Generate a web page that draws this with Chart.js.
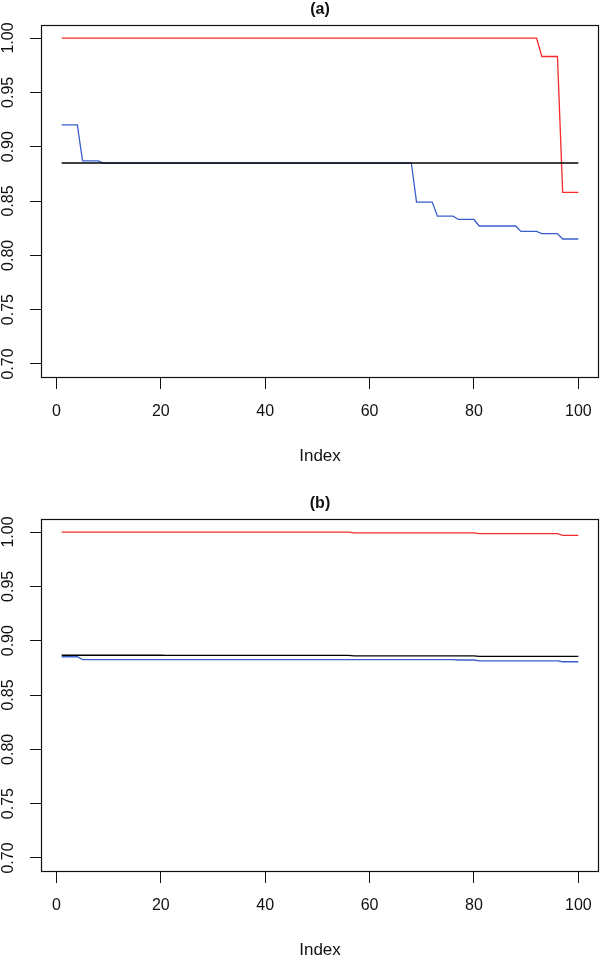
<!DOCTYPE html>
<html><head><meta charset="utf-8">
<script src="https://cdn.jsdelivr.net/npm/chart.js@4"></script>
<style>
html,body{margin:0;padding:0;background:#fff;overflow:hidden;width:600px;height:957px}
canvas{position:absolute;left:0}
</style></head><body>
<canvas id="ca" width="600" height="494" style="top:0"></canvas>
<canvas id="cb" width="600" height="494" style="top:494px"></canvas>
<script>
// ---- data ----
const index = [1,2,3,4,5,6,7,8,9,10,11,12,13,14,15,16,17,18,19,20,
  21,22,23,24,25,26,27,28,29,30,31,32,33,34,35,36,37,38,39,40,
  41,42,43,44,45,46,47,48,49,50,51,52,53,54,55,56,57,58,59,60,
  61,62,63,64,65,66,67,68,69,70,71,72,73,74,75,76,77,78,79,80,
  81,82,83,84,85,86,87,88,89,90,91,92,93,94,95,96,97,98,99,100];
const xTicks = [0,20,40,60,80,100];
const yTicks = [0.70,0.75,0.80,0.85,0.90,0.95,1.00];
const panelTitles = ['(a)','(b)'];
const xAxisTitle = 'Index';

const redA = [1,1,1,1,1,1,1,1,1,1, 1,1,1,1,1,1,1,1,1,1, 1,1,1,1,1,1,1,1,1,1,
  1,1,1,1,1,1,1,1,1,1, 1,1,1,1,1,1,1,1,1,1, 1,1,1,1,1,1,1,1,1,1,
  1,1,1,1,1,1,1,1,1,1, 1,1,1,1,1,1,1,1,1,1, 1,1,1,1,1,1,1,1,1,1,
  1,1,0.983,0.983,0.983,0.983,0.858,0.858,0.858,0.858];
const blueA = [0.920,0.920,0.920,0.920,0.887,0.887,0.887,0.887,0.8848,0.8848,
  0.8848,0.8848,0.8848,0.8848,0.8848,0.8848,0.8848,0.8848,0.8848,0.8848,
  0.8848,0.8848,0.8848,0.8848,0.8848,0.8848,0.8848,0.8848,0.8848,0.8848,
  0.8848,0.8848,0.8848,0.8848,0.8848,0.8848,0.8848,0.8848,0.8848,0.8848,
  0.8848,0.8848,0.8848,0.8848,0.8848,0.8848,0.8848,0.8848,0.8848,0.8848,
  0.8848,0.8848,0.8848,0.8848,0.8848,0.8848,0.8848,0.8848,0.8848,0.8848,
  0.8848,0.8848,0.8848,0.8848,0.8848,0.8848,0.8848,0.8848,0.849,0.849,
  0.849,0.849,0.836,0.836,0.836,0.836,0.833,0.833,0.833,0.833,
  0.827,0.827,0.827,0.827,0.827,0.827,0.827,0.827,0.822,0.822,
  0.822,0.822,0.820,0.820,0.820,0.820,0.815,0.815,0.815,0.815];
const blackA = [0.885,0.885,0.885,0.885,0.885,0.885,0.885,0.885,0.885,0.885,
  0.885,0.885,0.885,0.885,0.885,0.885,0.885,0.885,0.885,0.885,
  0.885,0.885,0.885,0.885,0.885,0.885,0.885,0.885,0.885,0.885,
  0.885,0.885,0.885,0.885,0.885,0.885,0.885,0.885,0.885,0.885,
  0.885,0.885,0.885,0.885,0.885,0.885,0.885,0.885,0.885,0.885,
  0.885,0.885,0.885,0.885,0.885,0.885,0.885,0.885,0.885,0.885,
  0.885,0.885,0.885,0.885,0.885,0.885,0.885,0.885,0.885,0.885,
  0.885,0.885,0.885,0.885,0.885,0.885,0.885,0.885,0.885,0.885,
  0.885,0.885,0.885,0.885,0.885,0.885,0.885,0.885,0.885,0.885,
  0.885,0.885,0.885,0.885,0.885,0.885,0.885,0.885,0.885,0.885];

const redB = [1,1,1,1,1,1,1,1,1,1, 1,1,1,1,1,1,1,1,1,1, 1,1,1,1,1,1,1,1,1,1,
  1,1,1,1,1,1,1,1,1,1, 1,1,1,1,1,1,1,1,1,1,
  1,1,1,1,1,1,0.9993,0.9993,0.9993,0.9993,
  0.9993,0.9993,0.9993,0.9993,0.9993,0.9993,0.9993,0.9993,0.9993,0.9993,
  0.9993,0.9993,0.9993,0.9993,0.9993,0.9993,0.9993,0.9993,0.9993,0.9993,
  0.9985,0.9985,0.9985,0.9985,0.9985,0.9985,0.9985,0.9985,0.9985,0.9985,
  0.9985,0.9985,0.9985,0.9985,0.9985,0.9985,0.997,0.997,0.997,0.997];
const blueB = [0.8852,0.8852,0.8852,0.8852,0.8826,0.8826,0.8826,0.8826,0.8826,0.8826,
  0.8826,0.8826,0.8826,0.8826,0.8826,0.8826,0.8826,0.8826,0.8826,0.8826,
  0.8826,0.8826,0.8826,0.8826,0.8826,0.8826,0.8826,0.8826,0.8826,0.8826,
  0.8826,0.8826,0.8826,0.8826,0.8826,0.8826,0.8826,0.8826,0.8826,0.8826,
  0.8826,0.8826,0.8826,0.8826,0.8826,0.8826,0.8826,0.8826,0.8826,0.8826,
  0.8826,0.8826,0.8826,0.8826,0.8826,0.8826,0.8826,0.8826,0.8826,0.8826,
  0.8826,0.8826,0.8826,0.8826,0.8826,0.8826,0.8826,0.8826,0.8826,0.8826,
  0.8826,0.8826,0.8826,0.8826,0.8826,0.8826,0.8822,0.8822,0.8822,0.8822,
  0.8815,0.8815,0.8815,0.8815,0.8815,0.8815,0.8815,0.8815,0.8815,0.8815,
  0.8815,0.8815,0.8815,0.8815,0.8815,0.8815,0.8806,0.8806,0.8806,0.8806];
const blackB = [0.8866,0.8866,0.8866,0.8866,0.8866,0.8866,0.8866,0.8866,0.8866,0.8866,
  0.8866,0.8866,0.8866,0.8866,0.8866,0.8866,0.8866,0.8866,0.8866,0.8866,
  0.8864,0.8864,0.8864,0.8864,0.8864,0.8864,0.8864,0.8864,0.8864,0.8864,
  0.8864,0.8864,0.8864,0.8864,0.8864,0.8864,0.8864,0.8864,0.8864,0.8864,
  0.8864,0.8864,0.8864,0.8864,0.8864,0.8864,0.8864,0.8864,0.8864,0.8864,
  0.8864,0.8864,0.8864,0.8864,0.8864,0.8864,0.8861,0.8861,0.8861,0.8861,
  0.8861,0.8861,0.8861,0.8861,0.8861,0.8861,0.8861,0.8861,0.8861,0.8861,
  0.8861,0.8861,0.8861,0.8861,0.8861,0.8861,0.8861,0.8861,0.8861,0.8861,
  0.8856,0.8856,0.8856,0.8856,0.8856,0.8856,0.8856,0.8856,0.8856,0.8856,
  0.8856,0.8856,0.8856,0.8856,0.8856,0.8856,0.8856,0.8856,0.8856,0.8856];

// ---- styling / layout ----
const FAMILY = "'Liberation Sans', Arial, Helvetica, sans-serif";
const INK = '#111';
const X_MIN = -2.96, X_MAX = 103.96;
const Y_MIN = 0.688, Y_MAX = 1.012;

const boxPlugin = {
  id: 'rbox',
  afterDraw(chart, args, opts) {
    const {ctx, chartArea: a} = chart;
    ctx.save();
    ctx.strokeStyle = INK;
    ctx.lineWidth = 1.2;
    ctx.strokeRect(Math.round(a.left) + 0.5, Math.round(a.top) + 0.5,
      Math.round(a.right - a.left) - 1, Math.round(a.bottom - a.top));
    ctx.fillStyle = INK;
    ctx.font = 'bold 16px ' + FAMILY;
    ctx.textAlign = 'center';
    ctx.textBaseline = 'middle';
    ctx.fillText(opts.text, (a.left + a.right) / 2, 10);
    ctx.restore();
  }
};

function makeChart(id, title, red, blue, black) {
  const line = (data, color) => ({data, borderColor: color, borderWidth: 1.3,
    pointRadius: 0, tension: 0, fill: false});
  return new Chart(document.getElementById(id), {
    type: 'line',
    data: {labels: index, datasets: [line(black, '#000'), line(blue, '#3a5fcd'), line(red, '#f52a2a')]},
    options: {
      responsive: false, animation: false, devicePixelRatio: 1,
      layout: {padding: {top: 25, left: 0, right: 1, bottom: 0}},
      plugins: {legend: {display: false}, tooltip: {enabled: false}, title: {display: false},
        rbox: {text: title}},
      scales: {
        x: {
          type: 'linear', min: X_MIN, max: X_MAX,
          afterBuildTicks: s => { s.ticks = xTicks.map(v => ({value: v})); },
          afterFit: s => { s.height = 117; s.paddingLeft = 0; s.paddingRight = 0; },
          grid: {drawOnChartArea: false, drawTicks: true, tickLength: 12, tickColor: INK, tickWidth: 1},
          border: {display: false},
          ticks: {font: {size: 16, family: FAMILY}, color: INK, padding: 13, maxRotation: 0,
            autoSkip: false, callback: v => String(v)},
          title: {display: true, text: xAxisTitle, color: INK, font: {size: 17, family: FAMILY},
            padding: {top: 0, bottom: 27}}
        },
        y: {
          type: 'linear', min: Y_MIN, max: Y_MAX,
          afterBuildTicks: s => { s.ticks = yTicks.map(v => ({value: v})); },
          afterFit: s => { s.width = 41; s.paddingTop = 0; s.paddingBottom = 0; },
          grid: {drawOnChartArea: false, drawTicks: true, tickLength: 11, tickColor: INK, tickWidth: 1},
          border: {display: false},
          ticks: {font: {size: 16, family: FAMILY}, color: INK, padding: 6, minRotation: 90,
            maxRotation: 90, crossAlign: 'center', autoSkip: false, callback: v => v.toFixed(2)}
        }
      }
    },
    plugins: [boxPlugin]
  });
}

makeChart('ca', panelTitles[0], redA, blueA, blackA);
makeChart('cb', panelTitles[1], redB, blueB, blackB);
</script>
</body></html>
